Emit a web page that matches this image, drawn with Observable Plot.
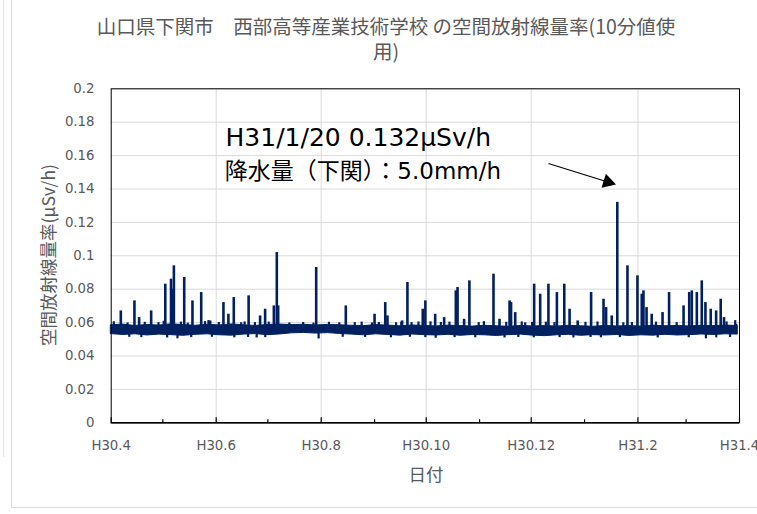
<!DOCTYPE html>
<html><head><meta charset="utf-8">
<script src="https://cdn.jsdelivr.net/npm/d3@7"></script>
<script src="https://cdn.jsdelivr.net/npm/@observablehq/plot@0.6"></script>
<style>
body{margin:0;background:#fff;}
#wrap{position:relative;width:757px;height:514px;overflow:hidden;background:#fff;}
#edge1{position:absolute;left:2.5px;top:0;width:0;height:457px;border-left:1px solid #e3e3e3;}
#box{position:absolute;left:10.5px;top:-2px;width:760px;height:509px;border-left:1px solid #d9d9d9;border-bottom:1px solid #d9d9d9;}
#title{position:absolute;left:96px;width:580px;top:13px;text-align:center;font:19.5px/25px "Noto Sans CJK JP",sans-serif;color:#595959;white-space:nowrap;}
#ytitle{position:absolute;left:47px;top:255px;transform:translate(-50%,-50%) rotate(-90deg);font:17.5px "Noto Sans CJK JP",sans-serif;color:#595959;white-space:nowrap;}
#xtitle{position:absolute;left:426px;top:472.5px;transform:translate(-50%,-50%);font:17.5px "Noto Sans CJK JP",sans-serif;color:#595959;white-space:nowrap;}
#chart{position:absolute;left:0;top:0;}
</style></head><body>
<div id="wrap">
  <div id="edge1"></div>
  <div id="box"></div>
  <div id="chart"></div>
  <div id="title">山口県下関市　西部高等産業技術学校 の空間放射線量率(10分値使<br>用)</div>
  <div id="ytitle">空間放射線量率(µSv/h)</div>
  <div id="xtitle">日付</div>
</div>
<script>
// ---- axis ticks ----
const xTickDates = ["2018-04-01","2018-06-01","2018-08-01","2018-10-01","2018-12-01","2019-02-01","2019-04-01"];
const xTickLabels = ["H30.4","H30.6","H30.8","H30.10","H30.12","H31.2","H31.4"];
const xMinorDates = ["2018-05-01","2018-07-01","2018-09-01","2018-11-01","2019-01-01","2019-03-01"];
const yTicks = [0,0.02,0.04,0.06,0.08,0.1,0.12,0.14,0.16,0.18,0.2];
const yTickLabels = ["0","0.02","0.04","0.06","0.08","0.1","0.12","0.14","0.16","0.18","0.2"];

// ---- baseline band (weekly low / high of the 10-min readings, from 2018-04-01) ----
const bandLow = [0.0531,0.0526,0.0530,0.0523,0.0528,0.0525,0.0521,0.0527,0.0530,0.0524,0.0522,0.0528,0.0531,0.0525,0.0529,0.0536,0.0538,0.0534,0.0537,0.0532,0.0528,0.0524,0.0530,0.0526,0.0522,0.0529,0.0525,0.0523,0.0527,0.0521,0.0526,0.0524,0.0520,0.0525,0.0528,0.0522,0.0519,0.0524,0.0527,0.0521,0.0525,0.0523,0.0526,0.0520,0.0524,0.0522,0.0527,0.0523,0.0525,0.0529,0.0526,0.0530,0.0528];
const bandHigh = [0.0584,0.0588,0.0580,0.0586,0.0582,0.0590,0.0585,0.0581,0.0587,0.0583,0.0589,0.0584,0.0580,0.0586,0.0588,0.0585,0.0587,0.0583,0.0586,0.0584,0.0581,0.0579,0.0585,0.0582,0.0578,0.0583,0.0580,0.0577,0.0582,0.0579,0.0576,0.0581,0.0578,0.0575,0.0580,0.0577,0.0579,0.0576,0.0581,0.0578,0.0575,0.0580,0.0577,0.0579,0.0576,0.0582,0.0578,0.0580,0.0577,0.0581,0.0579,0.0582,0.0580];

// ---- spikes (date, peak µSv/h) ----
const spikeDates = ["2018-04-06T14:00","2018-04-14T12:00","2018-04-17T05:00","2018-04-24T05:00","2018-05-02T10:00","2018-05-05T18:00","2018-05-06T15:00","2018-05-07T10:00","2018-05-13T10:00","2018-05-18T05:00","2018-05-23T07:00","2018-05-28T12:00","2018-06-05T05:00","2018-06-08T02:00","2018-06-11T05:00","2018-06-19T20:00","2018-06-26T12:00","2018-06-29T10:00","2018-07-04T12:00","2018-07-06T05:00","2018-07-07T00:00","2018-07-29T02:00","2018-08-15T07:00","2018-09-01T00:00","2018-09-07T05:00","2018-09-08T12:00","2018-09-17T00:00","2018-09-20T02:00","2018-09-29T00:00","2018-09-30T12:00","2018-10-06T05:00","2018-10-11T10:00","2018-10-18T05:00","2018-10-19T05:00","2018-10-23T00:00","2018-10-26T02:00","2018-11-09T02:00","2018-11-12T14:00","2018-11-18T10:00","2018-11-19T07:00","2018-11-21T17:00","2018-12-02T17:00","2018-12-06T05:00","2018-12-11T00:00","2018-12-15T22:00","2018-12-20T05:00","2018-12-23T07:00","2018-12-28T00:00","2019-01-04T19:00","2019-01-12T00:00","2019-01-13T12:00","2019-01-16T19:00","2019-01-20T00:00","2019-01-25T22:00","2019-01-31T17:00","2019-02-03T05:00","2019-02-04T05:00","2019-02-06T00:00","2019-02-09T00:00","2019-02-15T07:00","2019-02-19T02:00","2019-02-27T12:00","2019-03-02T19:00","2019-03-04T07:00","2019-03-07T05:00","2019-03-10T02:00","2019-03-12T05:00","2019-03-15T07:00","2019-03-18T10:00","2019-03-21T02:00","2019-03-23T00:00","2019-03-30T00:00"];
const spikePeaks = [0.067,0.073,0.063,0.067,0.083,0.086,0.080,0.094,0.087,0.073,0.078,0.061,0.072,0.065,0.075,0.076,0.064,0.068,0.070,0.102,0.070,0.093,0.070,0.065,0.072,0.064,0.061,0.084,0.068,0.073,0.065,0.063,0.079,0.081,0.062,0.085,0.089,0.062,0.073,0.072,0.066,0.083,0.077,0.083,0.078,0.083,0.068,0.061,0.078,0.074,0.069,0.064,0.132,0.094,0.088,0.077,0.079,0.069,0.065,0.066,0.078,0.070,0.078,0.079,0.078,0.085,0.072,0.068,0.067,0.074,0.063,0.059];

// ---- small bumps just above the baseline (date, value) ----
const bumpDates = ["2018-04-02","2018-04-10","2018-04-20","2018-04-28","2018-05-01","2018-05-11","2018-05-15","2018-05-25","2018-05-27","2018-06-02","2018-06-15","2018-06-17","2018-06-23","2018-07-01","2018-07-13","2018-07-21","2018-07-27","2018-08-05","2018-08-11","2018-08-20","2018-08-24","2018-08-30","2018-09-03","2018-09-13","2018-09-16","2018-09-22","2018-09-26","2018-10-03","2018-10-09","2018-10-14","2018-10-31","2018-11-03","2018-11-16","2018-11-25","2018-11-27","2018-12-01","2018-12-09","2018-12-14","2019-01-01","2019-01-08","2019-01-23","2019-01-28","2019-02-11","2019-02-23","2019-03-24","2019-03-29"];
const bumpValues = [0.0605,0.0598,0.0602,0.0600,0.0608,0.0603,0.0597,0.0606,0.0612,0.0601,0.0599,0.0604,0.0600,0.0603,0.0598,0.0601,0.0597,0.0602,0.0599,0.0600,0.0603,0.0598,0.0601,0.0599,0.0602,0.0600,0.0604,0.0605,0.0601,0.0603,0.0600,0.0606,0.0602,0.0604,0.0599,0.0601,0.0603,0.0600,0.0602,0.0604,0.0599,0.0601,0.0603,0.0600,0.0604,0.0612];

// ---- dips below the baseline (date, low) ----
const dipDates = ["2018-04-11","2018-04-18","2018-05-03","2018-05-09","2018-05-17","2018-05-29","2018-06-11","2018-06-19","2018-06-24","2018-06-29","2018-07-30","2018-08-13","2018-08-26","2018-09-10","2018-09-21","2018-09-30","2018-10-06","2018-10-17","2018-10-29","2018-11-15","2018-11-23","2018-12-02","2018-12-17","2018-12-25","2019-01-04","2019-01-10","2019-01-21","2019-02-12","2019-03-02","2019-03-12","2019-03-18","2019-03-26"];
const dipLows = [0.0512,0.0510,0.0508,0.0503,0.0510,0.0512,0.0509,0.0511,0.0508,0.0510,0.0502,0.0512,0.0511,0.0509,0.0512,0.0510,0.0506,0.0510,0.0509,0.0508,0.0511,0.0509,0.0510,0.0508,0.0511,0.0509,0.0510,0.0508,0.0509,0.0503,0.0509,0.0511];

// ---- annotation ----
const annotationLines = ["H31/1/20 0.132µSv/h", "降水量（下関）：5.0mm/h"];

const navy = "#002060";
const start = new Date("2018-04-01T00:00Z");
const band = bandLow.map((low, i) => ({date: d3.utcDay.offset(start, 7 * i), low, high: bandHigh[i]}));
const spikes = spikeDates.map((d, i) => ({date: new Date(d + "Z"), peak: spikePeaks[i]}));
const bumps = bumpDates.map((d, i) => ({date: new Date(d + "T12:00Z"), v: bumpValues[i]}));
const dips = dipDates.map((d, i) => ({date: new Date(d + "T12:00Z"), low: dipLows[i]}));
const majors = xTickDates.map(d => new Date(d + "T00:00Z"));
const minors = xMinorDates.map(d => new Date(d + "T00:00Z"));
const xLabel = new Map(majors.map((d, i) => [+d, xTickLabels[i]]));
const yLabel = new Map(yTicks.map((v, i) => [v, yTickLabels[i]]));

const plot = Plot.plot({
  width: 757, height: 514,
  marginLeft: 110.7, marginRight: 18, marginTop: 88.3, marginBottom: 91.7,
  style: {fontFamily: "'DejaVu Sans', sans-serif", fontSize: "13.3px", color: "#595959", background: "transparent", overflow: "visible"},
  x: {type: "utc", domain: [majors[0], majors[majors.length - 1]]},
  y: {domain: [0, 0.2]},
  marks: [
    Plot.gridY(yTicks, {stroke: "#d9d9d9", strokeOpacity: 1, strokeWidth: 1}),
    Plot.gridX(majors.slice(1, -1), {stroke: "#d9d9d9", strokeOpacity: 1, strokeWidth: 1}),
    Plot.areaY(band, {x: "date", y1: "low", y2: "high", fill: navy, stroke: navy, strokeWidth: 1}),
    Plot.ruleX(bumps, {x: "date", y1: 0.0565, y2: "v", stroke: navy, strokeWidth: 2.2}),
    Plot.ruleX(dips, {x: "date", y1: 0.054, y2: "low", stroke: navy, strokeWidth: 2.2}),
    Plot.ruleX(spikes, {x: "date", y1: 0.0565, y2: "peak", stroke: navy, strokeWidth: 2.6}),
    Plot.frame({stroke: "#000", strokeWidth: 1}),
    Plot.ruleY([0], {stroke: "#000", strokeWidth: 1.5}),
    Plot.ruleX(majors, {stroke: "#000", strokeWidth: 1.2, insetTop: 329}),
    Plot.ruleX(minors, {stroke: "#000", strokeWidth: 1.2, insetTop: 331}),
    Plot.axisX(majors, {tickSize: 0, tickPadding: 18, tickFormat: d => xLabel.get(+d), label: null, fill: "#595959"}),
    Plot.axisY(yTicks, {tickSize: 0, tickPadding: 16.7, tickFormat: d => yLabel.get(d), label: null, fill: "#595959"}),
    Plot.text([annotationLines[0]], {x: () => new Date("2018-06-06T10:00Z"), y: () => 0.1657, text: d => d, textAnchor: "start", lineAnchor: "bottom", fontSize: 25, fontFamily: "'DejaVu Sans', 'Noto Sans CJK JP', sans-serif", fill: "#000"}),
    Plot.text([annotationLines[1]], {x: () => new Date("2018-06-06T00:00Z"), y: () => 0.1461, text: d => d, textAnchor: "start", lineAnchor: "bottom", fontSize: 23, fontFamily: "'DejaVu Sans', 'Noto Sans CJK JP', sans-serif", fill: "#000"}),
    Plot.link([0], {x1: () => new Date("2018-12-11T00:00Z"), y1: () => 0.1553, x2: () => new Date("2019-01-14T12:00Z"), y2: () => 0.1442, stroke: "#000", strokeWidth: 1.2}),
    Plot.dot([0], {x: () => new Date("2019-01-14T12:00Z"), y: () => 0.1442, symbol: "triangle", r: 5.5, fill: "#000", stroke: "none", rotate: 107})
  ]
});
document.getElementById("chart").appendChild(plot);
</script>
</body></html>
